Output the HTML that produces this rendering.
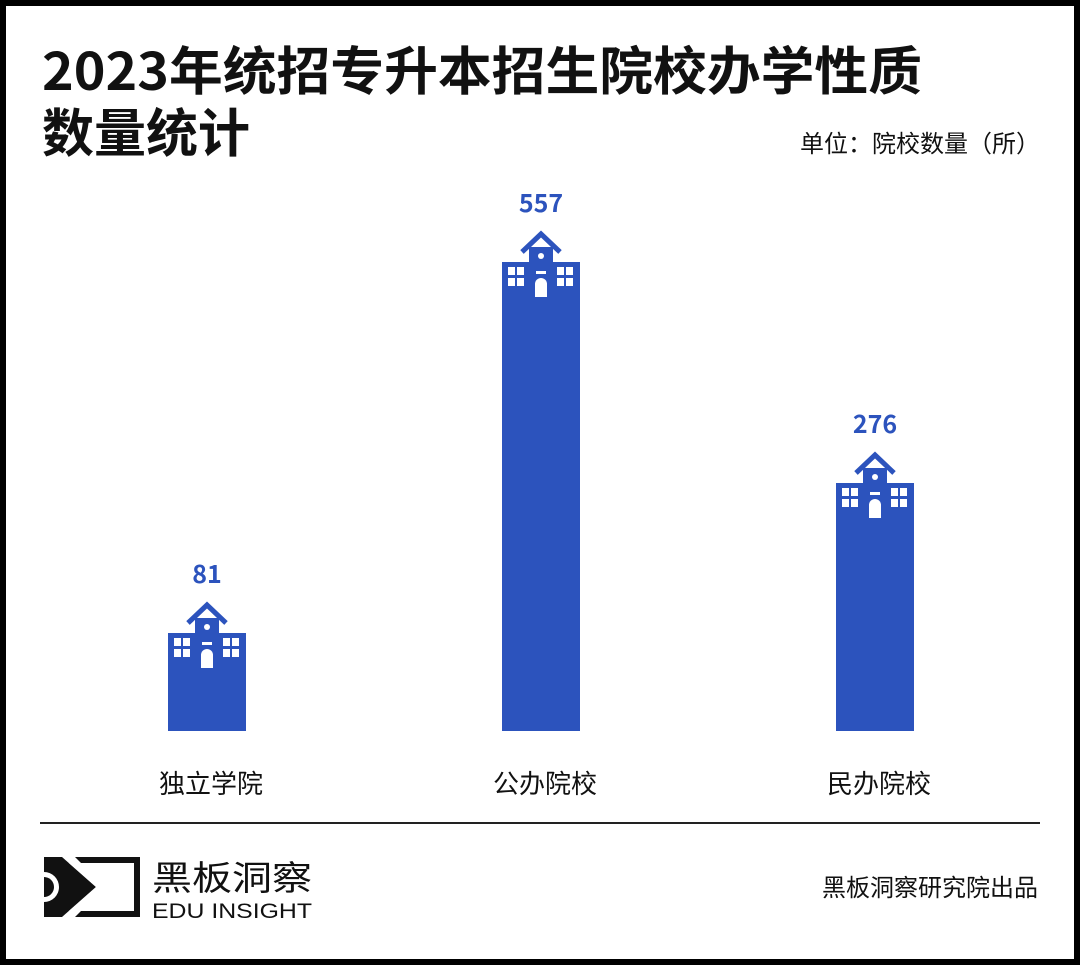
<!DOCTYPE html>
<html><head><meta charset="utf-8"><style>
html,body{margin:0;padding:0;background:#000;width:1080px;height:965px;overflow:hidden;position:relative;}
svg{display:block;position:absolute;left:0;top:0;}
text{font-family:"Liberation Sans","Noto Sans CJK SC",sans-serif;}
.n{font-family:"Noto Sans CJK SC",sans-serif;}
</style></head><body>
<svg width="1080" height="965" viewBox="0 0 1080 965" xmlns="http://www.w3.org/2000/svg">
<defs>
<g id="bld">
  <path d="M20,-10 L39,-28 L58,-10" fill="none" stroke="#2c53bd" stroke-width="5"/>
  <rect x="27" y="-15" width="24" height="16" fill="#2c53bd"/>
  <circle cx="39" cy="-6" r="3" fill="#fff"/>
  <rect x="0" y="0" width="78" height="40" fill="#2c53bd"/>
  <g fill="#fff">
    <rect x="6" y="5" width="7" height="8"/><rect x="15" y="5" width="7" height="8"/>
    <rect x="6" y="16" width="7" height="8"/><rect x="15" y="16" width="7" height="8"/>
    <rect x="55" y="5" width="7" height="8"/><rect x="64" y="5" width="7" height="8"/>
    <rect x="55" y="16" width="7" height="8"/><rect x="64" y="16" width="7" height="8"/>
    <rect x="34" y="9" width="10" height="3"/>
    <path d="M33,35 L33,22 A6,6 0 0 1 45,22 L45,35 Z"/>
  </g>
</g>
</defs>
<rect x="6" y="6" width="1068" height="953" fill="#fff"/>
<text class="n" x="42" y="90" font-size="52" font-weight="bold" fill="#111" textLength="880" lengthAdjust="spacingAndGlyphs">2023年统招专升本招生院校办学性质</text>
<text class="n" x="42" y="152" font-size="52" font-weight="bold" fill="#111">数量统计</text>
<text class="n" x="1040" y="152" font-size="24" fill="#111" text-anchor="end">单位：院校数量（所）</text>
<rect x="168" y="660" width="78" height="71" fill="#2c53bd"/>
<rect x="502" y="290" width="78" height="441" fill="#2c53bd"/>
<rect x="836" y="510" width="78" height="221" fill="#2c53bd"/>
<use href="#bld" x="168" y="633"/>
<use href="#bld" x="502" y="262"/>
<use href="#bld" x="836" y="483"/>
<g font-size="25" font-weight="bold" fill="#2c53bd" text-anchor="middle">
<text class="n" x="207" y="583">81</text>
<text class="n" x="541" y="212">557</text>
<text class="n" x="875" y="433">276</text>
</g>
<g font-size="26" fill="#111" text-anchor="middle">
<text class="n" x="211" y="793">独立学院</text>
<text class="n" x="545" y="793">公办院校</text>
<text class="n" x="879" y="793">民办院校</text>
</g>
<rect x="40" y="822" width="1000" height="2" fill="#222"/>
<rect x="47" y="860" width="90" height="54" fill="none" stroke="#111" stroke-width="6"/>
<path d="M44,857 L62,857 L96,887 L62,917 L44,917 Z" fill="#111"/>
<path d="M44,872 A14,14 0 0 1 44,902 Z" fill="#fff"/>
<path d="M44,877 A9,9 0 0 1 44,897 Z" fill="#111"/>
<path d="M62,857 L75,857 L105,887 L75,917 L62,917 L96,887 Z" fill="#fff"/>
<text class="n" x="152" y="890" font-size="34" fill="#111" textLength="160" lengthAdjust="spacingAndGlyphs">黑板洞察</text>
<text x="152" y="918" font-size="21" fill="#111" textLength="160" lengthAdjust="spacingAndGlyphs">EDU INSIGHT</text>
<text class="n" x="1038" y="896" font-size="24" fill="#111" text-anchor="end">黑板洞察研究院出品</text>
</svg>
</body></html>
